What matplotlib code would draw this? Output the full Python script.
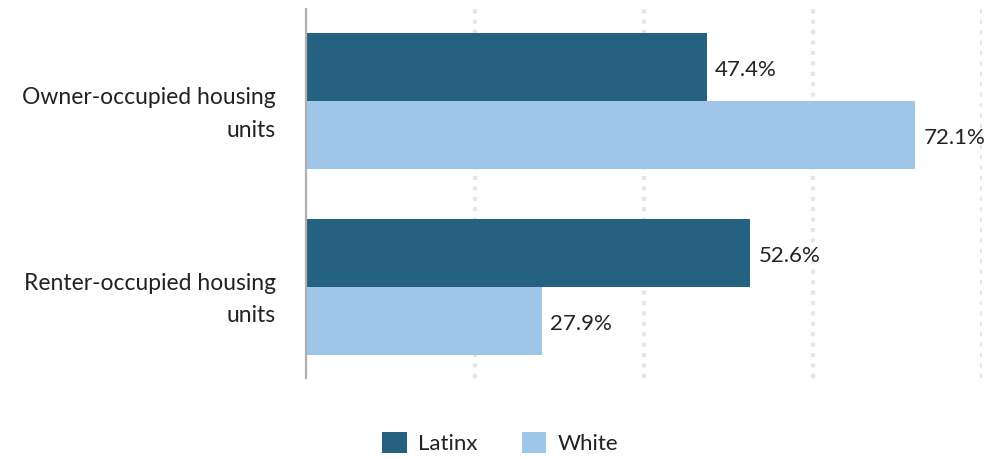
import matplotlib
matplotlib.use('Agg')
import matplotlib.pyplot as plt
import matplotlib.transforms as mtransforms
from matplotlib.patches import Patch
import numpy as np

plt.rcParams['font.family'] = ['Lato', 'DejaVu Sans']

categories = ['Owner-occupied housing\nunits', 'Renter-occupied housing\nunits']
series = ['Latinx', 'White']
latinx = [47.4, 52.6]
white = [72.1, 27.9]
colors = ['#256282', '#9fc5e8']

fig = plt.figure(figsize=(9.84, 4.59), dpi=100)
ax = fig.add_axes([306 / 984, 81 / 459, 676 / 984, 369 / 459])

y = np.arange(len(categories))
h = 0.3656
bars_l = ax.barh(y - h / 2, latinx, height=h, color=colors[0], zorder=3)
bars_w = ax.barh(y + h / 2, white, height=h, color=colors[1], zorder=3)

val_tr = mtransforms.offset_copy(ax.transData, fig=fig, x=0, y=-3, units='dots')
for bars, vals in [(bars_l, latinx), (bars_w, white)]:
    for b, v in zip(bars, vals):
        ax.text(v + 0.95, b.get_y() + b.get_height() / 2, f'{v}%', transform=val_tr,
                va='center', ha='left', fontsize=16, color='#222222')

ax.set_xlim(0, 80)
ax.set_ylim(1.49, -0.495)

# dotted vertical gridlines
for gx in [20, 40, 60, 80]:
    ax.axvline(gx, color='#e6e6e6', linewidth=3, linestyle=(0, (1, 1.5)), zorder=1)

ax.set_xticks([])
ax.set_yticks([])
# category labels, nudged a little below the group centre like the original
lab_tr = mtransforms.offset_copy(ax.get_yaxis_transform(), fig=fig, x=-30, y=-13, units='dots')
for yi, cat in zip(y, categories):
    ax.text(0, yi, cat, transform=lab_tr, ha='right', va='center', fontsize=16.5,
            color='#222222', linespacing=1.65, multialignment='right')

for s in ['top', 'right', 'bottom']:
    ax.spines[s].set_visible(False)
ax.spines['left'].set_color('#b0b0b0')
ax.spines['left'].set_linewidth(1.6)
ax.spines['left'].set_zorder(4)

handles = [Patch(facecolor=c, edgecolor='none') for c in colors]
fig.legend(handles, series, loc='center', bbox_to_anchor=(500 / 984, 1 - 443 / 459),
           ncol=2, frameon=False, fontsize=16, handlelength=1.1, handleheight=1.1,
           handletextpad=0.5, columnspacing=2.0, labelcolor='#222222')

fig.savefig('out.png', dpi=100)
